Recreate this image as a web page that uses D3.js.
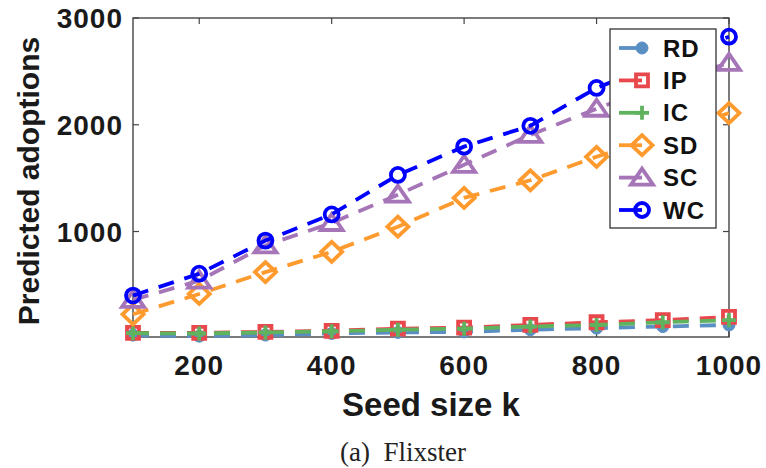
<!DOCTYPE html>
<html>
<head>
<meta charset="utf-8">
<script src="https://cdn.jsdelivr.net/npm/d3@7"></script>
<style>
  body { margin: 0; background: #fff; }
  svg { display: block; }
  .tick-label { font-family: "Liberation Sans", Arial, sans-serif; font-weight: bold; font-size: 28px; letter-spacing: 1px; fill: #1a1a1a; }
  .axis-title { font-family: "Liberation Sans", Arial, sans-serif; font-weight: bold; fill: #1a1a1a; }
  .legend-text { font-family: "Liberation Sans", Arial, sans-serif; font-weight: bold; font-size: 24px; letter-spacing: 1px; fill: #111; }
  .caption { font-family: "Liberation Serif", "Times New Roman", serif; font-size: 27px; fill: #222; }
</style>
</head>
<body>
<div id="chart"></div>
<script>
// data
const seedSizes = [100, 200, 300, 400, 500, 600, 700, 800, 900, 1000];
const rdValues = [30, 20, 30, 45, 55, 60, 80, 95, 110, 125];
const ipValues = [50, 50, 60, 70, 90, 100, 125, 150, 170, 200];
const icValues = [48, 45, 55, 65, 80, 90, 110, 125, 150, 170];
const sdValues = [225, 415, 620, 810, 1045, 1315, 1480, 1700, 1900, 2110];
const scValues = [360, 540, 870, 1080, 1345, 1625, 1905, 2150, 2380, 2580];
const wcValues = [400, 605, 915, 1160, 1530, 1795, 1990, 2345, 2590, 2825];
const xTicks = [200, 400, 600, 800, 1000];
const yTicks = [1000, 2000, 3000];

const series = [
  { key: "RD", values: rdValues, color: "#5a8fc3", marker: "dot" },
  { key: "IP", values: ipValues, color: "#e8474c", marker: "square" },
  { key: "IC", values: icValues, color: "#5fb35f", marker: "plus" },
  { key: "SD", values: sdValues, color: "#ff9a2e", marker: "diamond" },
  { key: "SC", values: scValues, color: "#a675b8", marker: "triangle" },
  { key: "WC", values: wcValues, color: "#0000ff", marker: "circle" },
];

const width = 766;
const height = 468;
const margin = { top: 18, right: 37, bottom: 131, left: 133 };

const x = d3.scaleLinear().domain([100, 1000]).range([margin.left, width - margin.right]);
const y = d3.scaleLinear().domain([12, 3000]).range([height - margin.bottom, margin.top]);

const svg = d3.select("#chart").append("svg")
  .attr("width", width)
  .attr("height", height)
  .attr("viewBox", [0, 0, width, height]);

function markerPath(type) {
  switch (type) {
    case "square": return "M-6,-6H6V6H-6Z";
    case "plus": return "M-7,0H7M0,-7V7";
    case "diamond": return "M0,-10L10.5,0L0,10L-10.5,0Z";
    case "triangle": return "M0,-9L11,7H-11Z";
    case "circle": return d3.symbol(d3.symbolCircle, Math.PI * 49)();
    default: return d3.symbol(d3.symbolCircle, Math.PI * 36)();
  }
}

function drawMarker(g, s, px, py) {
  g.append("path")
    .attr("d", markerPath(s.marker))
    .attr("transform", `translate(${px},${py})`)
    .attr("fill", s.marker === "dot" ? s.color : "none")
    .attr("stroke", s.color)
    .attr("stroke-width", s.marker === "dot" ? 1 : 3.8)
    .attr("stroke-linejoin", "miter");
}

// box and ticks
const x0 = margin.left, x1 = width - margin.right;
const y0 = height - margin.bottom, y1 = margin.top;
const axisColor = "#444";

const ticks = svg.append("g").attr("stroke", axisColor).attr("stroke-width", 1.2);
xTicks.forEach((t) => {
  ticks.append("line").attr("x1", x(t)).attr("x2", x(t)).attr("y1", y0).attr("y2", y0 - 6);
  ticks.append("line").attr("x1", x(t)).attr("x2", x(t)).attr("y1", y1).attr("y2", y1 + 6);
});
yTicks.forEach((t) => {
  ticks.append("line").attr("x1", x0).attr("x2", x0 + 6).attr("y1", y(t)).attr("y2", y(t));
  ticks.append("line").attr("x1", x1).attr("x2", x1 - 6).attr("y1", y(t)).attr("y2", y(t));
});

svg.append("rect")
  .attr("x", x0).attr("y", y1)
  .attr("width", x1 - x0).attr("height", y0 - y1)
  .attr("fill", "none")
  .attr("stroke", axisColor)
  .attr("stroke-width", 1.4);

svg.append("g").selectAll("text")
  .data(xTicks)
  .join("text")
  .attr("class", "tick-label")
  .attr("x", (d) => x(d))
  .attr("y", 375)
  .attr("text-anchor", "middle")
  .text((d) => d);

svg.append("g").selectAll("text")
  .data(yTicks)
  .join("text")
  .attr("class", "tick-label")
  .attr("x", x0 - 10)
  .attr("y", (d) => y(d))
  .attr("dy", "0.36em")
  .attr("text-anchor", "end")
  .text((d) => d);

// lines and markers
const line = d3.line().x((d, i) => x(seedSizes[i])).y((d) => y(d));

series.forEach((s) => {
  const g = svg.append("g").attr("class", "series");
  g.append("path")
    .attr("d", line(s.values))
    .attr("fill", "none")
    .attr("stroke", s.color)
    .attr("stroke-width", 3.8)
    .attr("stroke-dasharray", "16,11");
  s.values.forEach((v, i) => drawMarker(g, s, x(seedSizes[i]), y(v)));
});

// legend
const legend = svg.append("g").attr("class", "legend");
legend.append("rect")
  .attr("x", 610).attr("y", 29)
  .attr("width", 106).attr("height", 199)
  .attr("fill", "#fff")
  .attr("stroke", "#333")
  .attr("stroke-width", 1.3);

series.forEach((s, i) => {
  const ly = 48 + i * 32.4;
  const row = legend.append("g");
  row.append("line")
    .attr("x1", 619).attr("x2", 642)
    .attr("y1", ly).attr("y2", ly)
    .attr("stroke", s.color)
    .attr("stroke-width", 3.8);
  drawMarker(row, s, 642, ly);
  row.append("text")
    .attr("class", "legend-text")
    .attr("x", 663)
    .attr("y", ly)
    .attr("dy", "0.36em")
    .text(s.key);
});

// titles
svg.append("text")
  .attr("class", "axis-title")
  .attr("transform", `translate(${39},${181}) rotate(-90)`)
  .attr("text-anchor", "middle")
  .attr("font-size", 30)
  .text("Predicted adoptions");

svg.append("text")
  .attr("class", "axis-title")
  .attr("x", (x0 + x1) / 2)
  .attr("y", 416)
  .attr("text-anchor", "middle")
  .attr("font-size", 33)
  .text("Seed size k");

svg.append("text")
  .attr("class", "caption")
  .attr("x", 340)
  .attr("y", 461)
  .attr("xml:space", "preserve")
  .text("(a)  Flixster");
</script>
</body>
</html>
